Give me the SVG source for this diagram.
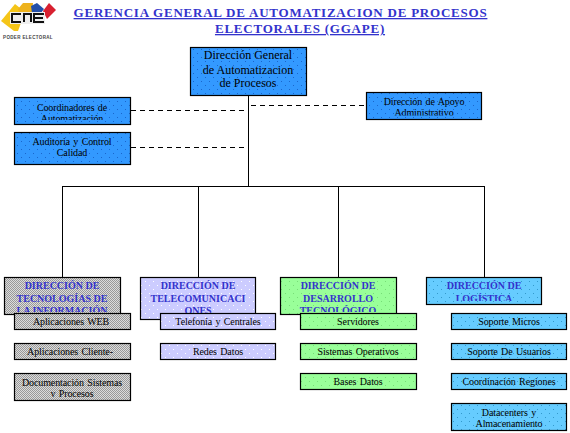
<svg xmlns="http://www.w3.org/2000/svg" width="570" height="433" viewBox="0 0 570 433">
<style>
text{font-family:"Liberation Serif","Times New Roman",serif;text-anchor:middle;fill:#000}
.box{stroke:#000;stroke-width:1.2}
.t1{font-size:12px}
.t2{font-size:10px;letter-spacing:-.1px;word-spacing:1px}
.dept{font-size:10px;font-weight:bold;fill:#3333cc;letter-spacing:0}
.title{font-size:13px;font-weight:bold;fill:#3333cc;letter-spacing:.77px;text-decoration:underline}
.solid{stroke:#000;stroke-width:1;fill:none}
.dash{stroke:#000;stroke-width:1;fill:none;stroke-dasharray:5 4}
</style>
<defs>
<pattern id="pBlue" width="8" height="8" patternUnits="userSpaceOnUse"><rect width="8" height="8" fill="#3399ff"/><rect x="1" y="1" width="1" height="1" fill="#1a66cc"/><rect x="5" y="5" width="1" height="1" fill="#1a66cc"/></pattern>
<pattern id="pGray" width="2" height="2" patternUnits="userSpaceOnUse"><rect width="2" height="2" fill="#dcdcdc"/><rect width="1" height="1" fill="#999"/><rect x="1" y="1" width="1" height="1" fill="#999"/></pattern>
<pattern id="pLav" width="8" height="8" patternUnits="userSpaceOnUse"><rect width="8" height="8" fill="#ccccff"/><rect x="1" y="1" width="1" height="1" fill="#fff"/><rect x="5" y="5" width="1" height="1" fill="#fff"/></pattern>
<pattern id="pGreen" width="8" height="8" patternUnits="userSpaceOnUse"><rect width="8" height="8" fill="#99ff99"/><rect x="1" y="1" width="1" height="1" fill="#77dd77"/><rect x="5" y="5" width="1" height="1" fill="#77dd77"/></pattern>
<pattern id="pSky" width="8" height="8" patternUnits="userSpaceOnUse"><rect width="8" height="8" fill="#66ccff"/><rect x="1" y="1" width="1" height="1" fill="#3399cc"/><rect x="5" y="5" width="1" height="1" fill="#3399cc"/></pattern>
<clipPath id="c1"><rect x="15" y="98" width="115" height="22"/></clipPath>
<clipPath id="c2"><rect x="366" y="93" width="115" height="22.500"/></clipPath>
<clipPath id="c3"><rect x="5" y="278" width="115" height="34"/></clipPath>
<clipPath id="c4"><rect x="281" y="278" width="115" height="34"/></clipPath>
<clipPath id="c5"><rect x="427" y="278" width="114" height="23"/></clipPath>
<clipPath id="c6"><rect x="15" y="374" width="115" height="23"/></clipPath>
<clipPath id="c7"><rect x="451" y="404" width="115" height="23"/></clipPath>
</defs>

<g id="connectors">
<path class="solid" d="M248.500 95V186M62 186.500H485M62.500 186V278M198.500 186V278M338.500 186V278M484.500 186V278"/>
<path class="dash" d="M131 110.500H246M131 147.500H246M251 105.500H366"/>
</g>

<g id="logo">
<path d="M1 21L15 4 25 12 18 31 14 31Z" fill="#f5c518"/>
<path d="M18 9L23 3 33 3 32 14 20 14Z" fill="#eeb21c"/>
<path d="M31 6L37 3 44 9 41 13 32 13Z" fill="#2450a8"/>
<path d="M43 11L49 3 56 10 47 19Z" fill="#d82030"/>
<rect x="10" y="12" width="35" height="12" fill="#eee"/>
<path d="M21 14H12V22H21M24 22V14H31V22M44 14H34V22H44M34 18H43" fill="none" stroke="#111" stroke-width="2"/>
<text x="28" y="39" style="font-family:'Liberation Sans',sans-serif;font-size:4.500px;fill:#444;letter-spacing:.35px;font-weight:bold">PODER ELECTORAL</text>
</g>

<g id="title">
<text class="title" x="280.500" y="17">GERENCIA GENERAL DE AUTOMATIZACION DE PROCESOS</text>
<text class="title" x="300" y="33">ELECTORALES (GGAPE)</text>
</g>

<g id="n-main"><rect class="box" x="190.500" y="47.500" width="116" height="48" fill="url(#pBlue)"/>
<text class="t1" x="248" y="59">Dirección General</text><text class="t1" x="248" y="74">de Automatizacion</text><text class="t1" x="248" y="87">de Procesos</text></g>

<g id="n-coord"><rect class="box" x="14.500" y="97.500" width="116" height="27" fill="url(#pBlue)"/>
<g clip-path="url(#c1)"><text class="t2" x="72" y="110.500">Coordinadores de</text><text class="t2" x="72" y="121.500">Automatización</text></g></g>
<g id="n-audit"><rect class="box" x="14.500" y="132.500" width="116" height="32" fill="url(#pBlue)"/>
<text class="t2" x="72" y="145">Auditoria y Control</text><text class="t2" x="72" y="156">Calidad</text></g>
<g id="n-apoyo"><rect class="box" x="366.500" y="92.500" width="115" height="27" fill="url(#pBlue)"/>
<g clip-path="url(#c2)"><text class="t2" x="424" y="105">Dirección de Apoyo</text><text class="t2" x="424" y="116">Administrativo</text></g></g>

<g id="n-dti"><rect class="box" x="4.500" y="277.500" width="116" height="37" fill="url(#pGray)"/>
<g clip-path="url(#c3)"><text class="dept" x="62" y="289">DIRECCIÓN DE</text><text class="dept" x="62" y="301.500">TECNOLOGÍAS DE</text><text class="dept" x="62" y="314">LA INFORMACIÓN</text></g></g>
<g id="n-tel"><rect class="box" x="140.500" y="277.500" width="115" height="42" fill="url(#pLav)"/>
<text class="dept" x="198" y="289">DIRECCIÓN DE</text><text class="dept" x="198" y="301.500">TELECOMUNICACI</text><text class="dept" x="198" y="313.500">ONES</text></g>
<g id="n-des"><rect class="box" x="280.500" y="277.500" width="116" height="37" fill="url(#pGreen)"/>
<g clip-path="url(#c4)"><text class="dept" x="338" y="289">DIRECCIÓN DE</text><text class="dept" x="338" y="301.500">DESARROLLO</text><text class="dept" x="338" y="314">TECNOLÓGICO</text></g></g>
<g id="n-log"><rect class="box" x="426.500" y="277.500" width="115" height="27" fill="url(#pSky)"/>
<g clip-path="url(#c5)"><text class="dept" x="484" y="289">DIRECCIÓN DE</text><text class="dept" x="484" y="301.500">LOGÍSTICA</text></g></g>

<g id="n-web"><rect class="box" x="14.500" y="313.500" width="116" height="16" fill="url(#pGray)"/><text class="t2" x="71" y="325">Aplicaciones WEB</text></g>
<g id="n-cli"><rect class="box" x="14.500" y="343.500" width="116" height="16" fill="url(#pGray)"/><text class="t2" x="70" y="355">Aplicaciones Cliente-</text></g>
<g id="n-doc"><rect class="box" x="14.500" y="373.500" width="116" height="27" fill="url(#pGray)"/><g clip-path="url(#c6)"><text class="t2" x="72" y="385.500">Documentación Sistemas</text><text class="t2" x="72" y="397">y Procesos</text></g></g>

<g id="n-telef"><rect class="box" x="160.500" y="313.500" width="115" height="16" fill="url(#pLav)"/><text class="t2" x="218" y="325">Telefonía  y Centrales</text></g>
<g id="n-redes"><rect class="box" x="160.500" y="343.500" width="115" height="16" fill="url(#pLav)"/><text class="t2" x="218" y="355">Redes Datos</text></g>

<g id="n-serv"><rect class="box" x="300.500" y="313.500" width="116" height="16" fill="url(#pGreen)"/><text class="t2" x="358" y="325">Servidores</text></g>
<g id="n-so"><rect class="box" x="300.500" y="343.500" width="116" height="16" fill="url(#pGreen)"/><text class="t2" x="358" y="355">Sistemas Operativos</text></g>
<g id="n-bd"><rect class="box" x="300.500" y="373.500" width="116" height="16" fill="url(#pGreen)"/><text class="t2" x="358" y="385">Bases Datos</text></g>

<g id="n-micro"><rect class="box" x="451.500" y="313.500" width="115" height="16" fill="url(#pSky)"/><text class="t2" x="509" y="325">Soporte Micros</text></g>
<g id="n-usu"><rect class="box" x="451.500" y="343.500" width="115" height="16" fill="url(#pSky)"/><text class="t2" x="509" y="355">Soporte De Usuarios</text></g>
<g id="n-coordr"><rect class="box" x="451.500" y="373.500" width="115" height="16" fill="url(#pSky)"/><text class="t2" x="509" y="385">Coordinación Regiones</text></g>
<g id="n-dc"><rect class="box" x="451.500" y="403.500" width="115" height="27" fill="url(#pSky)"/><g clip-path="url(#c7)"><text class="t2" x="509" y="415.500">Datacenters y</text><text class="t2" x="509" y="427">Almacenamiento</text></g></g>
</svg>
